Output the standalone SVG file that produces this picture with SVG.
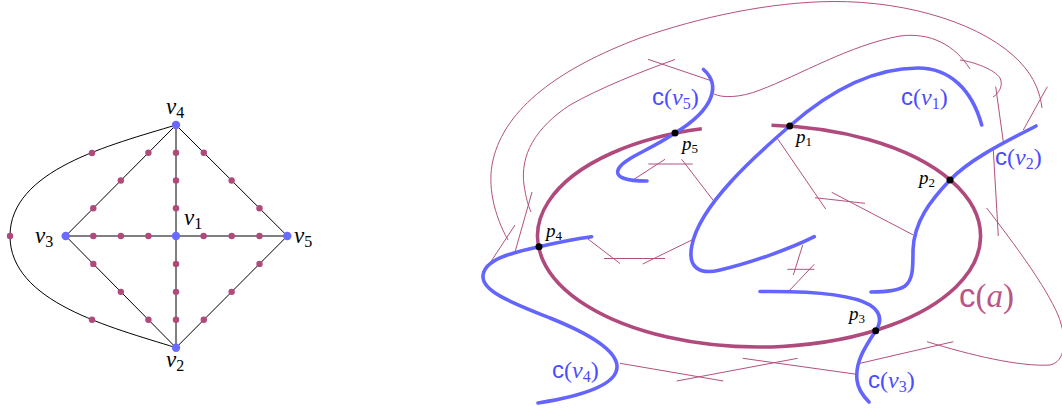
<svg xmlns="http://www.w3.org/2000/svg" width="1062" height="410" viewBox="0 0 1062 410">
<style>
.edge{fill:none;stroke:#000;stroke-width:1}
.mdot{fill:#b04a7a}
.bdot{fill:#6a6aff}
.thin{fill:none;stroke:#b4507e;stroke-width:1}
.thick{fill:none;stroke:#b04a7c;stroke-width:3.6}
.blue{fill:none;stroke:#6464ff;stroke-width:3.6;stroke-linecap:round}
.pdot{fill:#000}
.lbl{font-family:"Liberation Serif",serif;fill:#000}
.it{font-style:italic}
.sans{font-family:"Liberation Sans",sans-serif}
.cb{font-family:"Liberation Serif",serif;font-size:24px;fill:#4b4bff}
.ca{font-family:"Liberation Serif",serif;font-size:33px;fill:#b8568a}
</style>

<!-- Left graph -->
<g id="graph-edges">
  <line class="edge" x1="176" y1="125" x2="65.7" y2="236"/>
  <line class="edge" x1="65.7" y1="236" x2="176" y2="347.7"/>
  <line class="edge" x1="176" y1="125" x2="287.3" y2="236"/>
  <line class="edge" x1="287.3" y1="236" x2="176" y2="347.7"/>
  <line class="edge" x1="176" y1="125" x2="176" y2="347.7"/>
  <line class="edge" x1="65.7" y1="236" x2="287.3" y2="236"/>
  <path class="edge" d="M176,125 C110,145 10,170 10,236 C10,302 110,327 176,347.7"/>
</g>
<g id="subdivision-dots">
  <circle class="mdot" cx="148.4" cy="152.75" r="3.2"/>
  <circle class="mdot" cx="120.85" cy="180.5" r="3.2"/>
  <circle class="mdot" cx="93.3" cy="208.25" r="3.2"/>
  <circle class="mdot" cx="93.3" cy="263.9" r="3.2"/>
  <circle class="mdot" cx="120.85" cy="291.85" r="3.2"/>
  <circle class="mdot" cx="148.4" cy="319.8" r="3.2"/>
  <circle class="mdot" cx="203.8" cy="152.75" r="3.2"/>
  <circle class="mdot" cx="231.65" cy="180.5" r="3.2"/>
  <circle class="mdot" cx="259.5" cy="208.25" r="3.2"/>
  <circle class="mdot" cx="259.5" cy="263.9" r="3.2"/>
  <circle class="mdot" cx="231.65" cy="291.85" r="3.2"/>
  <circle class="mdot" cx="203.8" cy="319.8" r="3.2"/>
  <circle class="mdot" cx="176" cy="152.75" r="3.2"/>
  <circle class="mdot" cx="176" cy="180.5" r="3.2"/>
  <circle class="mdot" cx="176" cy="208.25" r="3.2"/>
  <circle class="mdot" cx="176" cy="263.9" r="3.2"/>
  <circle class="mdot" cx="176" cy="291.85" r="3.2"/>
  <circle class="mdot" cx="176" cy="319.8" r="3.2"/>
  <circle class="mdot" cx="93.3" cy="236" r="3.2"/>
  <circle class="mdot" cx="120.9" cy="236" r="3.2"/>
  <circle class="mdot" cx="148.4" cy="236" r="3.2"/>
  <circle class="mdot" cx="203.6" cy="236" r="3.2"/>
  <circle class="mdot" cx="231.7" cy="236" r="3.2"/>
  <circle class="mdot" cx="259.5" cy="236" r="3.2"/>
  <circle class="mdot" cx="92" cy="153" r="3.2"/>
  <circle class="mdot" cx="10" cy="236" r="3.2"/>
  <circle class="mdot" cx="92" cy="319.7" r="3.2"/>
</g>
<g id="v1">
  <circle class="bdot" cx="176" cy="236" r="4.2"/>
  <text class="lbl" x="184" y="225" font-size="23"><tspan class="it">v</tspan><tspan font-size="16" dy="4">1</tspan></text>
</g>
<g id="v2">
  <circle class="bdot" cx="176" cy="347.7" r="4.2"/>
  <text class="lbl" x="166" y="367" font-size="23"><tspan class="it">v</tspan><tspan font-size="16" dy="4">2</tspan></text>
</g>
<g id="v3">
  <circle class="bdot" cx="65.7" cy="236" r="4.2"/>
  <text class="lbl" x="35" y="243" font-size="23"><tspan class="it">v</tspan><tspan font-size="16" dy="4">3</tspan></text>
</g>
<g id="v4">
  <circle class="bdot" cx="176" cy="125" r="4.2"/>
  <text class="lbl" x="166" y="114" font-size="23"><tspan class="it">v</tspan><tspan font-size="16" dy="4">4</tspan></text>
</g>
<g id="v5">
  <circle class="bdot" cx="287.3" cy="236" r="4.2"/>
  <text class="lbl" x="294" y="243" font-size="23"><tspan class="it">v</tspan><tspan font-size="16" dy="4">5</tspan></text>
</g>

<!-- Right picture -->
<g id="thin-edges">
  <path class="thin" d="M508,240 C494,215 487,185 493,160 C505,108 560,68 640,38 C700,17 770,2 833,1.5 C910,1 985,25 1020,62 C1035,78 1040,93 1042,108"/>
  <line class="thin" x1="490" y1="263" x2="515" y2="225"/>
  <path class="thin" d="M675,59.5 C640,72 600,88 570,105 C535,128 520,155 524,185 C526,198 528,205 531,212"/>
  <line class="thin" x1="515" y1="252" x2="532" y2="192"/>
  <line class="thin" x1="648" y1="59.3" x2="712" y2="81"/>
  <path class="thin" d="M714,94 C722,98 740,98 760,90 C800,75 850,45 900,36 C930,32 955,45 970,69"/>
  <path class="thin" d="M960,60 C975,62 995,70 1000,78 C1004,86 998,94 993,97"/>
  <line class="thin" x1="995.7" y1="86.7" x2="1003.3" y2="141.7"/>
  <line class="thin" x1="1047.3" y1="86.7" x2="1023.3" y2="130"/>
  <line class="thin" x1="993.3" y1="150" x2="998.3" y2="236"/>
  <path class="thin" d="M986.7,208 C1015,245 1045,285 1058,315 C1068,340 1065,362 1050,365 C1020,367 970,355 927,341.7"/>
  <line class="thin" x1="953.3" y1="341.7" x2="860" y2="363.3"/>
  <line class="thin" x1="620" y1="363.3" x2="723.3" y2="381"/>
  <line class="thin" x1="676.7" y1="381" x2="797.7" y2="358.3"/>
  <line class="thin" x1="742.7" y1="358.3" x2="856.7" y2="374.3"/>
  <line class="thin" x1="648.3" y1="164" x2="692.7" y2="164"/>
  <line class="thin" x1="665" y1="159.3" x2="634" y2="179.3"/>
  <line class="thin" x1="681.7" y1="159.3" x2="713.3" y2="200.5"/>
  <line class="thin" x1="586.7" y1="238" x2="620" y2="263.5"/>
  <line class="thin" x1="604" y1="258.5" x2="665" y2="258.5"/>
  <line class="thin" x1="642.7" y1="264" x2="693.3" y2="239.3"/>
  <line class="thin" x1="802.7" y1="245" x2="793.3" y2="275"/>
  <line class="thin" x1="787.3" y1="269.3" x2="814.3" y2="269.3"/>
  <line class="thin" x1="814.3" y1="264.3" x2="788.3" y2="291.7"/>
  <line class="thin" x1="777.3" y1="138.3" x2="825.7" y2="209"/>
  <line class="thin" x1="815" y1="197.7" x2="865" y2="203.3"/>
  <line class="thin" x1="831.7" y1="192.3" x2="913.3" y2="235"/>
</g>

<g id="ca">
  <path class="thick" d="M771.5,125.2 A221.5,111 0 1 1 701.8,128.8"/>
  <text class="ca" x="959" y="307"><tspan class="sans">c</tspan>(<tspan class="it">a</tspan>)</text>
</g>

<g id="cv1">
  <path class="blue" d="M981.7,125 C972,90 950,68 918,68 C870,68 825,95 789.7,126 C755,156 700,205 692,245 C687,268 700,275 720,270 C750,263 790,249 814.3,236.7"/>
  <text class="cb" x="901" y="105"><tspan class="sans">c</tspan>(<tspan class="it">v</tspan><tspan font-size="16" dy="4">1</tspan><tspan dy="-4">)</tspan></text>
</g>
<g id="cv2">
  <path class="blue" d="M1036,126 C1005,142 970,159 950,180 C930,201 914,222 913,250 C913,268 913,280 905,286 C898,291 885,292 871,292"/>
  <text class="cb" x="995" y="165"><tspan class="sans">c</tspan>(<tspan class="it">v</tspan><tspan font-size="16" dy="4">2</tspan><tspan dy="-4">)</tspan></text>
</g>
<g id="cv3">
  <path class="blue" d="M760,291.5 C800,291 850,293 870,305 C882,313 881.5,322 875.7,330.7 C865,347 855,362 857,380 C858,390 864,397 869,402"/>
  <text class="cb" x="868" y="388"><tspan class="sans">c</tspan>(<tspan class="it">v</tspan><tspan font-size="16" dy="4">3</tspan><tspan dy="-4">)</tspan></text>
</g>
<g id="cv4">
  <path class="blue" d="M591.7,236.7 C575,239 555,243 539,246.7 C510,253 484,260 483,276 C482,291 510,302 550,318 C590,334 616,350 617,366 C618,385 582,396 538,403"/>
  <text class="cb" x="552" y="378"><tspan class="sans">c</tspan>(<tspan class="it">v</tspan><tspan font-size="16" dy="4">4</tspan><tspan dy="-4">)</tspan></text>
</g>
<g id="cv5">
  <path class="blue" d="M703.5,69.5 C720,84 716,108 675,133 C650,150 625,158 619,168 C613,178 628,181 647,181"/>
  <text class="cb" x="652" y="105"><tspan class="sans">c</tspan>(<tspan class="it">v</tspan><tspan font-size="16" dy="4">5</tspan><tspan dy="-4">)</tspan></text>
</g>

<g id="p1">
  <circle class="pdot" cx="789.7" cy="126" r="3.5"/>
  <text class="lbl" x="796" y="143" font-size="19"><tspan class="it">p</tspan><tspan font-size="13" dy="3">1</tspan></text>
</g>
<g id="p2">
  <circle class="pdot" cx="950" cy="180" r="3.5"/>
  <text class="lbl" x="919" y="184" font-size="19"><tspan class="it">p</tspan><tspan font-size="13" dy="3">2</tspan></text>
</g>
<g id="p3">
  <circle class="pdot" cx="875.7" cy="330.7" r="3.5"/>
  <text class="lbl" x="849" y="320" font-size="19"><tspan class="it">p</tspan><tspan font-size="13" dy="3">3</tspan></text>
</g>
<g id="p4">
  <circle class="pdot" cx="539" cy="246.7" r="3.5"/>
  <text class="lbl" x="546" y="237" font-size="19"><tspan class="it">p</tspan><tspan font-size="13" dy="3">4</tspan></text>
</g>
<g id="p5">
  <circle class="pdot" cx="675" cy="133" r="3.5"/>
  <text class="lbl" x="682" y="150" font-size="19"><tspan class="it">p</tspan><tspan font-size="13" dy="3">5</tspan></text>
</g>
</svg>
